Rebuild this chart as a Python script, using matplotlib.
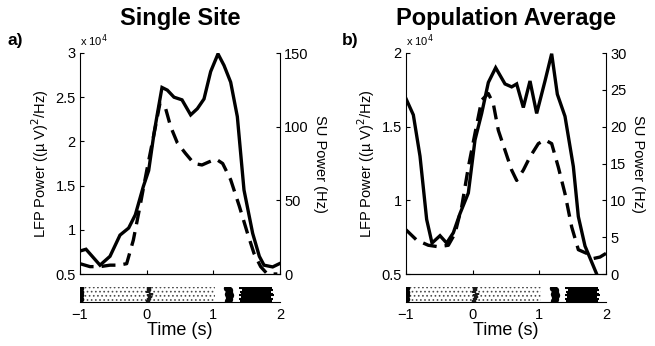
import matplotlib
matplotlib.use("Agg")
import matplotlib.pyplot as plt

plt.rcParams["font.family"] = ["Liberation Sans", "DejaVu Sans"]
plt.rcParams["hatch.linewidth"] = 0.7
plt.rcParams["hatch.color"] = "0.3"

# ---- data ----
# a) single site; LFP in units of 1e4 (uV)^2/Hz, SU in Hz
t_lfp_a = [-1.0, -0.91, -0.70, -0.55, -0.40, -0.27, -0.17, -0.05, 0.03, 0.11, 0.16, 0.23,
           0.31, 0.41, 0.53, 0.66, 0.76, 0.86, 0.96, 1.07, 1.16, 1.26, 1.36, 1.46, 1.59,
           1.69, 1.76, 1.89, 2.0]
lfp_a = [0.76, 0.78, 0.60, 0.70, 0.94, 1.02, 1.17, 1.49, 1.67, 2.09, 2.31, 2.61,
         2.58, 2.50, 2.47, 2.30, 2.37, 2.48, 2.79, 2.99, 2.86, 2.67, 2.28, 1.45, 0.96,
         0.70, 0.60, 0.58, 0.62]
t_su_a = [-1.0, -0.85, -0.70, -0.55, -0.42, -0.30, -0.20, -0.10, 0.0, 0.11, 0.20, 0.28,
          0.36, 0.46, 0.58, 0.71, 0.83, 0.93, 1.04, 1.14, 1.26, 1.39, 1.51, 1.61, 1.71,
          1.81, 1.96]
su_a = [7, 5, 5, 6, 6, 7, 23, 46, 70, 95, 116, 113,
        100, 89, 82, 75, 74, 76, 78, 75, 64, 46, 28, 14, 5,
        0, 0]

# b) population average
t_lfp_b = [-1.0, -0.89, -0.79, -0.69, -0.61, -0.49, -0.39, -0.29, -0.19, -0.065, 0.035,
           0.135, 0.235, 0.345, 0.485, 0.585, 0.66, 0.76, 0.86, 0.96, 1.085, 1.185, 1.27,
           1.385, 1.51, 1.585, 1.685, 1.86, 1.95]
lfp_b = [1.69, 1.58, 1.30, 0.87, 0.71, 0.76, 0.71, 0.78, 0.91, 1.05, 1.41,
         1.59, 1.80, 1.90, 1.79, 1.77, 1.79, 1.63, 1.81, 1.59, 1.81, 1.995, 1.72,
         1.57, 1.23, 0.89, 0.69, 0.50, 0.38]
t_su_b = [-1.0, -0.84, -0.665, -0.515, -0.365, -0.265, -0.165, -0.065, 0.035, 0.135, 0.235,
          0.31, 0.385, 0.485, 0.585, 0.66, 0.76, 0.86, 0.985, 1.085, 1.185, 1.285, 1.385,
          1.485, 1.585, 1.71, 1.81, 1.91, 2.0]
su_b = [6.0, 4.6, 3.9, 3.7, 3.9, 5.5, 9.1, 14.5, 19.1, 23.6, 24.5,
        23.1, 19.5, 16.8, 14.1, 12.7, 14.1, 15.9, 17.7, 18.2, 17.7, 14.5, 10.9,
        6.4, 3.3, 2.8, 2.1, 2.3, 2.8]

# task events per trial (s), used for the raster strip
fix_on = [-1.0, -0.99, -1.0, -0.99, -1.0, -0.99, -1.0, -0.99]
target_on = [0.02, 0.04, 0.05, 0.03, 0.06, 0.02, 0.04, 0.03]
delay_end = 1.02
go_cue = [1.22, 1.24, 1.23, 1.25, 1.22, 1.24, 1.23, 1.21]
resp_start = [1.40, 1.38, 1.42, 1.39, 1.41, 1.40, 1.43, 1.39]
resp_end = [1.88, 1.90, 1.86, 1.91, 1.89, 1.87, 1.90, 1.88]

panels = [
    dict(x0=80, title="Single Site", tag="a)", tag_x=8, t_lfp=t_lfp_a, lfp=lfp_a,
         t_su=t_su_a, su=su_a, lfp_lim=(0.5, 3), lfp_ticks=[0.5, 1, 1.5, 2, 2.5, 3],
         su_lim=(0, 150), su_ticks=[0, 50, 100, 150]),
    dict(x0=406, title="Population Average", tag="b)", tag_x=342, t_lfp=t_lfp_b, lfp=lfp_b,
         t_su=t_su_b, su=su_b, lfp_lim=(0.5, 2), lfp_ticks=[0.5, 1, 1.5, 2],
         su_lim=(0, 30), su_ticks=[0, 5, 10, 15, 20, 25, 30]),
]

W, H = 655, 346
fig = plt.figure(figsize=(W / 100, H / 100), dpi=100)


def fmt(v):
    return f"{v:g}"


for p in panels:
    x0 = p["x0"] / W
    w = 200 / W
    ax = fig.add_axes([x0, (H - 274) / H, w, 221 / H])
    ax2 = ax.twinx()

    ax.plot(p["t_lfp"], p["lfp"], color="black", lw=2.4, solid_joinstyle="miter")
    ax2.plot(p["t_su"], p["su"], color="black", lw=2.4, dashes=(4.2, 2.4))

    ax.set_xlim(-1, 2)
    ax.set_ylim(*p["lfp_lim"])
    ax2.set_ylim(*p["su_lim"])
    ax.set_xticks([-1, 0, 1, 2])
    ax.set_xticklabels([])
    ax.set_yticks(p["lfp_ticks"])
    ax.set_yticklabels([fmt(v) for v in p["lfp_ticks"]])
    ax2.set_yticks(p["su_ticks"])
    ax2.set_yticklabels([fmt(v) for v in p["su_ticks"]])

    for a in (ax, ax2):
        a.spines["top"].set_visible(False)
        for s in a.spines.values():
            s.set_linewidth(0.8)
        a.tick_params(direction="in", length=3, width=0.8, labelsize=10.5, pad=3)
    ax.spines["right"].set_visible(False)
    ax2.spines["left"].set_visible(False)

    ax.set_ylabel(r"LFP Power ((µ V)$^2$/Hz)", fontsize=10.5, labelpad=3)
    ax2.set_ylabel("SU Power (Hz)", fontsize=10.5, rotation=270, labelpad=13)
    ax.text(0.0, 1.02, r"x 10$^4$", transform=ax.transAxes, fontsize=8, ha="left", va="bottom")

    fig.text((p["x0"] + 100) / W, 1 - 19 / H, p["title"], fontsize=17, fontweight="bold",
             ha="center", va="center")
    fig.text(p["tag_x"] / W, 1 - 41 / H, p["tag"], fontsize=12.5, fontweight="bold",
             ha="left", va="center")

    # raster strip below the axes
    rx = fig.add_axes([x0, (H - 302) / H, w, 15 / H])
    n = len(fix_on)
    rows = list(range(n))
    rx.fill_between([min(fix_on), delay_end], -0.5, n - 0.5, facecolor="white",
                    hatch="....", lw=0)
    rx.hlines(rows, resp_start, resp_end, color="black", lw=1.5)
    rx.vlines(target_on, [r - 0.6 for r in rows], [r + 0.6 for r in rows],
              color="0.1", lw=3.2, zorder=3)
    rx.scatter(fix_on, rows, s=16, color="black", marker="o", lw=0, zorder=3)
    rx.scatter(go_cue, rows, s=28, color="black", marker="o", lw=0, zorder=3)
    rx.set_xlim(-1, 2)
    rx.set_ylim(-0.7, n - 0.3)
    for s in ("top", "left", "right"):
        rx.spines[s].set_visible(False)
    rx.spines["bottom"].set_linewidth(0.8)
    rx.set_yticks([])
    rx.set_xticks([-1, 0, 1, 2])
    rx.tick_params(axis="x", direction="in", length=0, labelsize=10.5, pad=4)
    rx.set_xlabel("Time (s)", fontsize=13, labelpad=0)

fig.savefig("out.png", dpi=100)
